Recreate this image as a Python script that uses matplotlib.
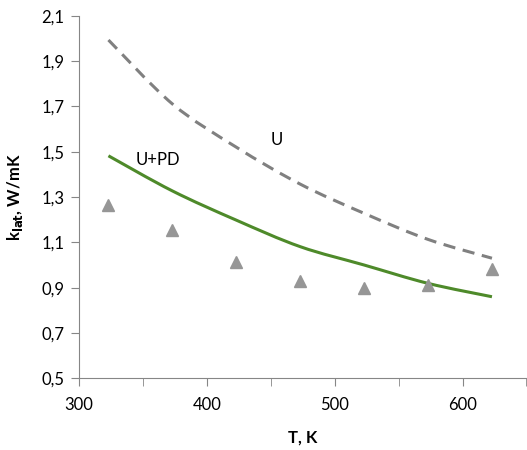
import matplotlib
matplotlib.use("Agg")
import matplotlib.pyplot as plt
from matplotlib.path import Path
from matplotlib.patches import PathPatch
from matplotlib.ticker import MultipleLocator, FixedLocator, FuncFormatter

T = [323, 373, 423, 473, 523, 573, 623]
k_U = [1.993, 1.711, 1.52, 1.357, 1.228, 1.113, 1.03]
k_UPD = [1.482, 1.327, 1.198, 1.081, 1.0, 0.919, 0.86]
k_exp = [1.266, 1.154, 1.015, 0.929, 0.897, 0.912, 0.982]
y_ticks = [0.5, 0.7, 0.9, 1.1, 1.3, 1.5, 1.7, 1.9, 2.1]
x_ticks = [300, 400, 500, 600]

plt.rcParams['font.family'] = ['Lato', 'DejaVu Sans']


def smooth_path(xs, ys):
    pts = list(zip(xs, ys))
    n = len(pts)
    verts = [pts[0]]
    codes = [Path.MOVETO]
    for i in range(n - 1):
        p0 = pts[i - 1] if i > 0 else pts[i]
        p1 = pts[i]
        p2 = pts[i + 1]
        p3 = pts[i + 2] if i + 2 < n else pts[i + 1]
        c1 = (p1[0] + (p2[0] - p0[0]) / 6, p1[1] + (p2[1] - p0[1]) / 6)
        c2 = (p2[0] - (p3[0] - p1[0]) / 6, p2[1] - (p3[1] - p1[1]) / 6)
        verts += [c1, c2, p2]
        codes += [Path.CURVE4] * 3
    return Path(verts, codes)


fig = plt.figure(figsize=(5.27, 4.5), dpi=100)
ax = fig.add_axes([0.15, 0.1593, 0.849, 0.8057])

ax.add_patch(PathPatch(smooth_path(T, k_U), fill=False, edgecolor='#808080',
                       lw=2.2, linestyle=(0, (4, 2.5)), capstyle='butt'))
ax.add_patch(PathPatch(smooth_path(T, k_UPD), fill=False, edgecolor='#4E8A2A', lw=2.2))
ax.plot(T, k_exp, linestyle='none', marker='^', color='#969696', ms=8)

ax.text(455, 1.552, 'U', fontsize=12, ha='center', va='center')
ax.text(362, 1.463, 'U+PD', fontsize=12, ha='center', va='center')

ax.set_xlim(300, 650)
ax.set_ylim(0.5, 2.1)
ax.xaxis.set_major_locator(FixedLocator(x_ticks))
ax.xaxis.set_minor_locator(MultipleLocator(50))
ax.yaxis.set_major_locator(FixedLocator(y_ticks))
ax.yaxis.set_major_formatter(FuncFormatter(lambda v, p: f"{v:.1f}".replace('.', ',')))

for s in ['top', 'right']:
    ax.spines[s].set_visible(False)
for s in ['left', 'bottom']:
    ax.spines[s].set_color('#868686')
ax.tick_params(axis='both', which='both', color='#868686', labelsize=12, length=5.5)
ax.tick_params(axis='x', which='major', pad=8)
ax.tick_params(axis='y', pad=5)

ax.set_xlabel('T, K', fontsize=12, fontweight='bold', labelpad=12)
ax.set_ylabel(r'k$_{\mathbf{lat}}$, W/mK', fontsize=12, fontweight='bold', labelpad=12)

fig.savefig('out.png', dpi=100)
